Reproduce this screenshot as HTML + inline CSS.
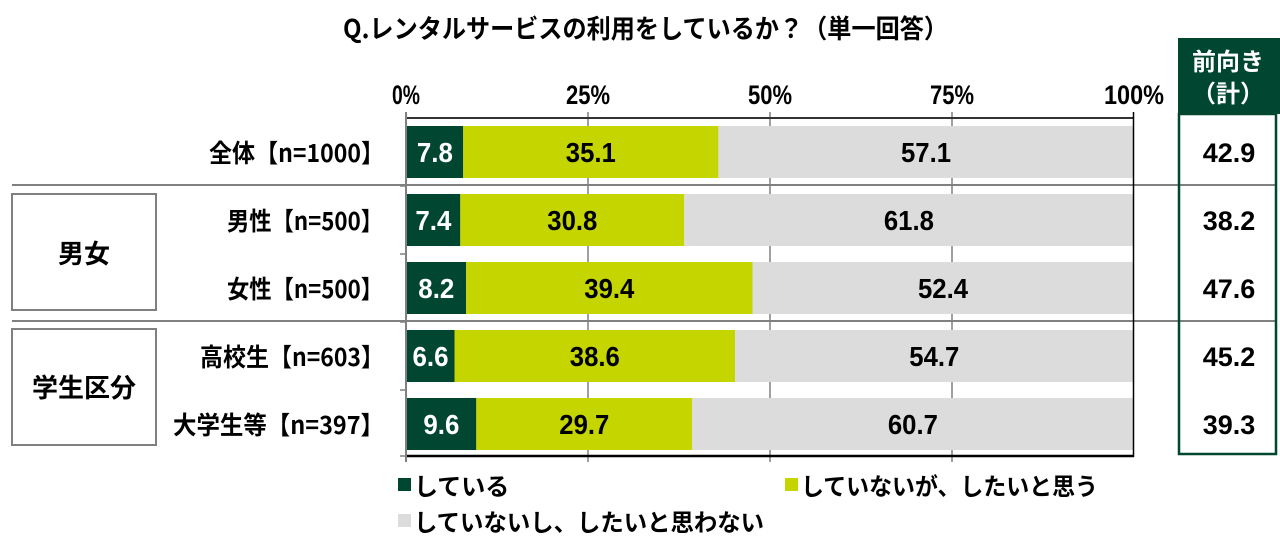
<!DOCTYPE html>
<html><head><meta charset="utf-8"><style>
html,body{margin:0;padding:0;background:#fff;}
svg{display:block;}
text{font-family:"Liberation Sans","Noto Sans CJK JP",sans-serif;font-weight:bold;}
.j{font-family:"Noto Sans CJK JP","Liberation Sans",sans-serif;}
</style></head><body>
<svg width="1280" height="544" viewBox="0 0 1280 544" xmlns="http://www.w3.org/2000/svg">
<text class="j" x="343" y="38" font-size="26" textLength="605" lengthAdjust="spacingAndGlyphs">Q.レンタルサービスの利用をしているか？（単一回答）</text>
<g font-size="27" text-anchor="middle">
<text x="406" y="104" textLength="28" lengthAdjust="spacingAndGlyphs">0%</text>
<text x="588" y="104" textLength="44" lengthAdjust="spacingAndGlyphs">25%</text>
<text x="770" y="104" textLength="44" lengthAdjust="spacingAndGlyphs">50%</text>
<text x="952" y="104" textLength="44" lengthAdjust="spacingAndGlyphs">75%</text>
<text x="1134" y="104" textLength="60" lengthAdjust="spacingAndGlyphs">100%</text>
</g>
<!-- gridlines (behind bars) -->
<g stroke="#808080" stroke-width="1.5">
<line x1="588" y1="112" x2="588" y2="462"/><line x1="770" y1="112" x2="770" y2="462"/><line x1="952" y1="112" x2="952" y2="462"/>
</g>
<!-- separators -->
<line x1="12" y1="185" x2="1276" y2="185" stroke="#808080" stroke-width="2"/>
<line x1="12" y1="321" x2="1276" y2="321" stroke="#808080" stroke-width="2"/>
<!-- bars -->
<g>
<rect x="406.5" y="126" width="56.7" height="52" fill="#004630"/><rect x="463.2" y="126" width="255.2" height="52" fill="#c5d500"/><rect x="718.4" y="126" width="415.1" height="52" fill="#dcdcdc"/>
<rect x="406.5" y="194" width="53.8" height="52" fill="#004630"/><rect x="460.3" y="194" width="223.9" height="52" fill="#c5d500"/><rect x="684.2" y="194" width="449.3" height="52" fill="#dcdcdc"/>
<rect x="406.5" y="262" width="59.6" height="52" fill="#004630"/><rect x="466.1" y="262" width="286.4" height="52" fill="#c5d500"/><rect x="752.5" y="262" width="381" height="52" fill="#dcdcdc"/>
<rect x="406.5" y="330" width="48" height="52" fill="#004630"/><rect x="454.5" y="330" width="280.6" height="52" fill="#c5d500"/><rect x="735.1" y="330" width="398.4" height="52" fill="#dcdcdc"/>
<rect x="406.5" y="398" width="69.8" height="52" fill="#004630"/><rect x="476.3" y="398" width="215.9" height="52" fill="#c5d500"/><rect x="692.2" y="398" width="441.3" height="52" fill="#dcdcdc"/>
</g>
<line x1="406" y1="118" x2="1134" y2="118" stroke="#333" stroke-width="2"/>
<line x1="406" y1="456" x2="1134" y2="456" stroke="#000" stroke-width="2.5"/>
<line x1="1133.5" y1="112" x2="1133.5" y2="457" stroke="#000" stroke-width="1.5"/>
<line x1="406" y1="112" x2="406" y2="462" stroke="#808080" stroke-width="2"/>
<g stroke="#808080" stroke-width="1.5"><line x1="400" y1="186" x2="406" y2="186"/><line x1="400" y1="254" x2="406" y2="254"/><line x1="400" y1="322" x2="406" y2="322"/><line x1="400" y1="390" x2="406" y2="390"/><line x1="400" y1="456" x2="406" y2="456"/></g>
<!-- bar labels -->
<g font-size="28" text-anchor="middle">
<text x="434.9" y="162" fill="#fff" textLength="36" lengthAdjust="spacingAndGlyphs">7.8</text><text x="590.8" y="162" textLength="50" lengthAdjust="spacingAndGlyphs">35.1</text><text x="926" y="162" textLength="50" lengthAdjust="spacingAndGlyphs">57.1</text>
<text x="433.4" y="230" fill="#fff" textLength="36" lengthAdjust="spacingAndGlyphs">7.4</text><text x="572.3" y="230" textLength="50" lengthAdjust="spacingAndGlyphs">30.8</text><text x="908.9" y="230" textLength="50" lengthAdjust="spacingAndGlyphs">61.8</text>
<text x="436.3" y="298" fill="#fff" textLength="36" lengthAdjust="spacingAndGlyphs">8.2</text><text x="609.3" y="298" textLength="50" lengthAdjust="spacingAndGlyphs">39.4</text><text x="943" y="298" textLength="50" lengthAdjust="spacingAndGlyphs">52.4</text>
<text x="430.5" y="366" fill="#fff" textLength="36" lengthAdjust="spacingAndGlyphs">6.6</text><text x="594.8" y="366" textLength="50" lengthAdjust="spacingAndGlyphs">38.6</text><text x="934.3" y="366" textLength="50" lengthAdjust="spacingAndGlyphs">54.7</text>
<text x="441.4" y="434" fill="#fff" textLength="36" lengthAdjust="spacingAndGlyphs">9.6</text><text x="584.3" y="434" textLength="50" lengthAdjust="spacingAndGlyphs">29.7</text><text x="912.9" y="434" textLength="50" lengthAdjust="spacingAndGlyphs">60.7</text>
</g>
<!-- row labels -->
<g font-size="25">
<text class="j" x="209" y="162" font-size="25" textLength="175" lengthAdjust="spacingAndGlyphs">全体【n=1000】</text>
<text class="j" x="227" y="230" font-size="25" textLength="156" lengthAdjust="spacingAndGlyphs">男性【n=500】</text>
<text class="j" x="227" y="298" font-size="25" textLength="156" lengthAdjust="spacingAndGlyphs">女性【n=500】</text>
<text class="j" x="200" y="366" font-size="25" textLength="184" lengthAdjust="spacingAndGlyphs">高校生【n=603】</text>
<text class="j" x="173" y="434" font-size="25" textLength="211" lengthAdjust="spacingAndGlyphs">大学生等【n=397】</text>
</g>
<!-- group boxes -->
<rect x="12" y="194" width="144" height="116" fill="none" stroke="#808080" stroke-width="2"/>
<rect x="12" y="329" width="144" height="116" fill="none" stroke="#808080" stroke-width="2"/>
<text class="j" x="84" y="263" font-size="26" text-anchor="middle">男女</text>
<text class="j" x="84" y="397" font-size="26" text-anchor="middle">学生区分</text>
<!-- right panel -->
<rect x="1178" y="38" width="102" height="76" fill="#004630"/>
<rect x="1179" y="114" width="97" height="340" fill="none" stroke="#004630" stroke-width="2.5"/>
<text class="j" x="1228" y="70" font-size="24" fill="#fff" text-anchor="middle">前向き</text>
<text class="j" x="1228" y="102" font-size="24" fill="#fff" text-anchor="middle">（計）</text>
<g font-size="27" text-anchor="middle">
<text x="1229" y="162">42.9</text><text x="1229" y="230">38.2</text><text x="1229" y="298">47.6</text><text x="1229" y="366">45.2</text><text x="1229" y="434">39.3</text>
</g>
<!-- legend -->
<rect x="398" y="478" width="13" height="13" fill="#004630"/>
<text class="j" x="414" y="495" font-size="24">している</text>
<rect x="785" y="478" width="13" height="13" fill="#c5d500"/>
<text class="j" x="801" y="495" font-size="24" textLength="297" lengthAdjust="spacingAndGlyphs">していないが、したいと思う</text>
<rect x="398" y="514" width="13" height="13" fill="#dcdcdc"/>
<text class="j" x="414" y="531" font-size="24" textLength="350" lengthAdjust="spacingAndGlyphs">していないし、したいと思わない</text>
</svg>
</body></html>
